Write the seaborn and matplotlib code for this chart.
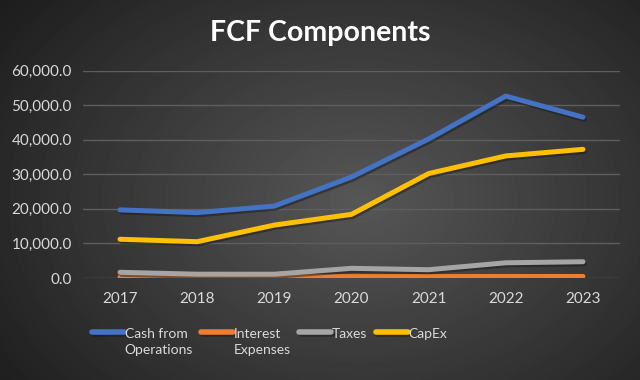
import numpy as np
import pandas as pd
import seaborn as sns
import matplotlib
matplotlib.use("Agg")
from matplotlib import pyplot as plt
import matplotlib.patheffects as pe

years = [2017, 2018, 2019, 2020, 2021, 2022, 2023]
cash_ops = [19700, 18900, 20800, 29200, 40200, 52600, 46500]
interest = [300, 350, 350, 400, 400, 450, 450]
taxes = [1650, 1100, 1100, 2800, 2400, 4400, 4700]
capex = [11200, 10500, 15300, 18400, 30200, 35300, 37200]
series = ["Cash from\nOperations", "Interest\nExpenses", "Taxes\n ", "CapEx\n "]
colors = ["#4472C4", "#ED7D31", "#A5A5A5", "#FFC000"]

df = pd.DataFrame({"year": years * 4,
                   "value": cash_ops + interest + taxes + capex,
                   "series": np.repeat(series, len(years))})
df["x"] = df["year"].map({y: i for i, y in enumerate(years)})

sns.set_theme(style="dark")
plt.rcParams['font.family'] = ['Lato', 'DejaVu Sans']

fig = plt.figure(figsize=(6.4, 3.8), dpi=100)

# radial gradient background
bg = fig.add_axes([0, 0, 1, 1], zorder=-10)
yy, xx = np.mgrid[0:380, 0:640]
r = np.sqrt(((xx - 360) / 420.0) ** 2 + ((yy - 200) / 300.0) ** 2)
shade = np.clip(0.34 - 0.21 * r, 0.11, 0.34)
bg.imshow(shade, cmap="gray", vmin=0, vmax=1, aspect="auto", extent=[0, 1, 0, 1])
bg.axis("off")

ax = fig.add_axes([83 / 640, 1 - 278 / 380, (620 - 83) / 640, (278 - 70.5) / 380])
ax.patch.set_alpha(0)
sns.lineplot(data=df, x="x", y="value", hue="series", palette=colors,
             linewidth=3.6, ax=ax, legend=True, solid_capstyle="round")
for ln in ax.lines:
    ln.set_path_effects([pe.SimpleLineShadow(offset=(1, -1.5), alpha=0.5), pe.Normal()])

ax.set_ylim(0, 60000)
ax.set_xlim(-0.48, 6.48)
ax.set_yticks(range(0, 60001, 10000))
ax.set_yticklabels([f"{v:,.1f}" for v in range(0, 60001, 10000)])
ax.set_xticks(range(len(years)))
ax.set_xticklabels([str(y) for y in years])
ax.tick_params(colors="#d9d9d9", labelsize=11, length=0, pad=8)
ax.tick_params(axis="x", pad=10)
ax.grid(axis="y", color="#5e5e5e", linewidth=1)
ax.grid(axis="x", visible=False)
ax.set_xlabel("")
ax.set_ylabel("")
for s in ax.spines.values():
    s.set_visible(False)

handles, labels = ax.get_legend_handles_labels()
ax.get_legend().remove()
leg = fig.legend(handles, labels, loc="upper left", bbox_to_anchor=(92 / 640, 1 - 328 / 380),
                 ncol=4, frameon=False, labelcolor="#d9d9d9", fontsize=10,
                 handlelength=2.3, handletextpad=0.05, columnspacing=0.6, borderaxespad=0,
                 borderpad=0)
for t in leg.get_texts():
    t.set_linespacing(1.45)
for hl in leg.get_lines():
    hl.set_ydata(np.asarray(hl.get_ydata()) + 7.5)
    hl.set_solid_capstyle("round")
    hl.set_linewidth(4)

fig.text(0.5, 1 - 33 / 380, "FCF Components", ha="center", va="center",
         color="white", fontsize=20.5, fontweight="bold")

plt.savefig("out.png", dpi=100)
